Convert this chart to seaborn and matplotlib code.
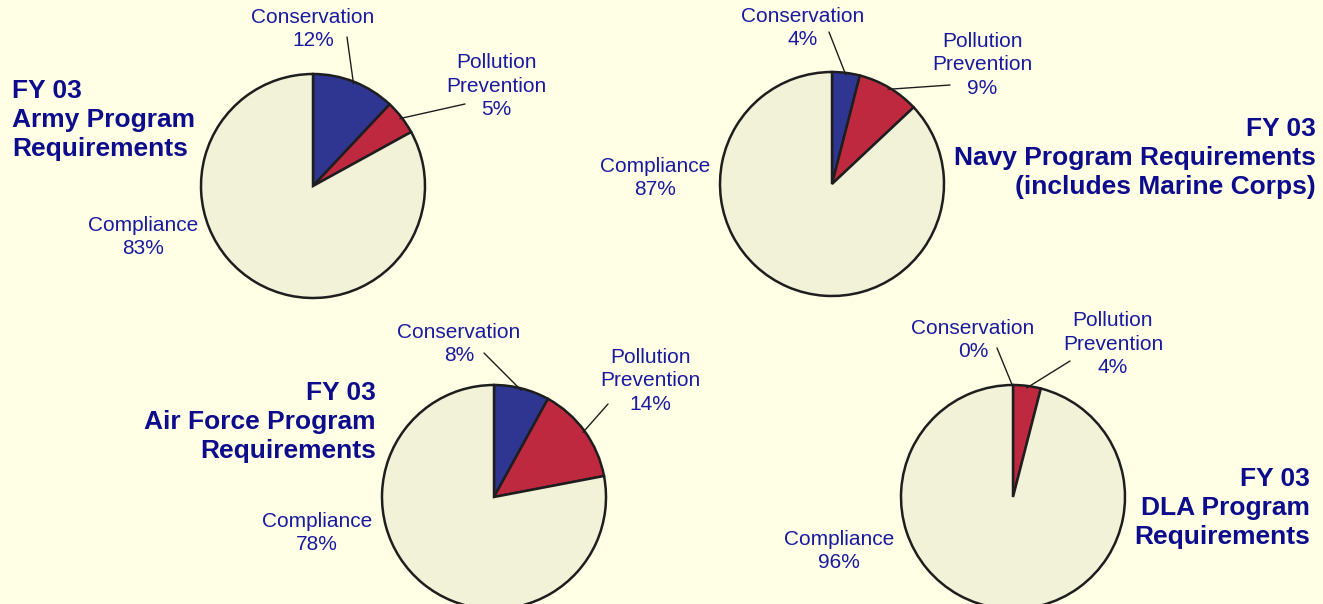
import numpy as np
import matplotlib
matplotlib.use("Agg")
import matplotlib.pyplot as plt
import seaborn as sns

# data (percent)
categories = ["Conservation", "Pollution\nPrevention", "Compliance"]
army = [12, 5, 83]
navy = [4, 9, 87]
air_force = [8, 14, 78]
dla = [0, 4, 96]

titles = ["FY 03\nArmy Program\nRequirements",
          "FY 03\nNavy Program Requirements\n(includes Marine Corps)",
          "FY 03\nAir Force Program\nRequirements",
          "FY 03\nDLA Program\nRequirements"]

bg = "#FFFFE6"
sns.set_theme(style="white", rc={"figure.facecolor": bg, "axes.facecolor": bg})
plt.rcParams["font.family"] = ["Liberation Sans", "DejaVu Sans"]

pie_colors = sns.color_palette(["#2E3692", "#BF2940", "#F2F2D8"])
label_color = "#1A1AA0"
title_color = "#0C0C8C"

W, H = 1323, 604
fig = plt.figure(figsize=(W / 100, H / 100), dpi=100)
ax = fig.add_axes([0, 0, 1, 1])

# layout in pixel coordinates (y measured from top)
layout = [
    dict(vals=army, center=(313, 186), title_xy=(12, 120), ha="left",
         lab=[(313, 29), (496, 86), (143, 237)],
         lead=[(347, 37), (465, 104), None]),
    dict(vals=navy, center=(832, 184), title_xy=(1316, 158), ha="right",
         lab=[(803, 28), (982, 65), (655, 178)],
         lead=[(829, 32), (950, 85), None]),
    dict(vals=air_force, center=(494, 497), title_xy=(376, 422), ha="right",
         lab=[(459, 344), (650, 381), (317, 533)],
         lead=[(484, 353), (608, 404), None]),
    dict(vals=dla, center=(1013, 497), title_xy=(1310, 508), ha="right",
         lab=[(973, 340), (1113, 344), (839, 551)],
         lead=[(997, 348), (1070, 361), None]),
]

R = 112
for spec, title in zip(layout, titles):
    cx, cy = spec["center"]
    wedges, _ = ax.pie(spec["vals"], colors=pie_colors, startangle=90,
                       counterclock=False, radius=R, center=(cx, H - cy),
                       wedgeprops=dict(edgecolor="#1E1E1E", linewidth=1.8),
                       frame=True)
    for w, cat, v, (lx, ly), lead in zip(wedges, categories, spec["vals"],
                                         spec["lab"], spec["lead"]):
        ax.text(lx, H - ly, f"{cat}\n{v}%", ha="center", va="center",
                fontsize=15, color=label_color, linespacing=1.32)
        if lead is not None:
            mid = np.deg2rad((w.theta1 + w.theta2) / 2)
            ex = cx + (R - 2) * np.cos(mid)
            ey = (H - cy) + (R - 2) * np.sin(mid)
            ax.plot([lead[0], ex], [H - lead[1], ey], color="#1E1E1E", lw=1.0)
    tx, ty = spec["title_xy"]
    ax.text(tx, H - ty, title, ha=spec["ha"], va="center", fontsize=19,
            fontweight="bold", color=title_color, linespacing=1.25,
            multialignment=spec["ha"])

ax.set_xlim(0, W)
ax.set_ylim(0, H)
ax.set_aspect("auto")
ax.set_position([0, 0, 1, 1])
ax.axis("off")

fig.savefig("out.png", dpi=100, facecolor=bg)
